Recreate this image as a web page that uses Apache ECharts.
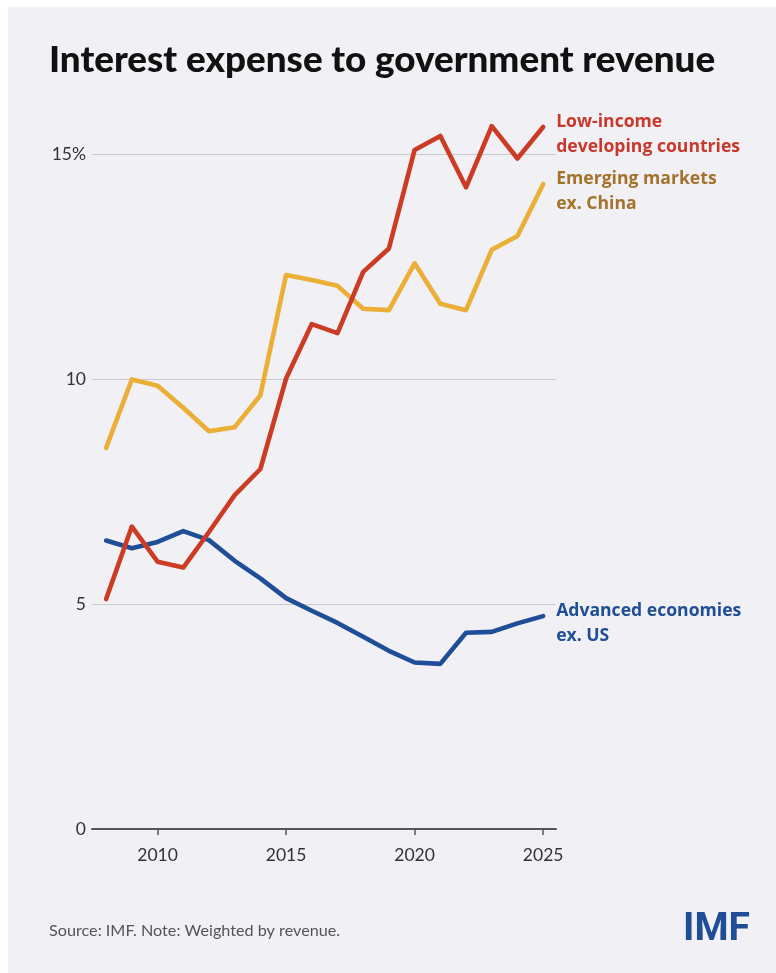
<!DOCTYPE html>
<html>
<head>
<meta charset="utf-8">
<script src="https://cdn.jsdelivr.net/npm/echarts@6/dist/echarts.min.js"></script>
<style>
  html, body { margin: 0; padding: 0; background: #ffffff; }
  #chart { width: 776px; height: 973px; }
</style>
</head>
<body>
<div id="chart"></div>
<script>
// Interest expense as a share of government revenue, percent
const years = [2008, 2009, 2010, 2011, 2012, 2013, 2014, 2015, 2016, 2017, 2018, 2019, 2020, 2021, 2022, 2023, 2024, 2025];
const lowIncome = [5.11, 6.72, 5.94, 5.81, 6.6, 7.42, 8.0, 10.01, 11.22, 11.02, 12.38, 12.9, 15.09, 15.4, 14.26, 15.62, 14.9, 15.6];
const emerging = [8.47, 9.99, 9.85, 9.36, 8.84, 8.93, 9.64, 12.31, 12.2, 12.07, 11.56, 11.53, 12.57, 11.67, 11.53, 12.87, 13.18, 14.33];
const advanced = [6.41, 6.24, 6.38, 6.62, 6.42, 5.96, 5.57, 5.13, 4.85, 4.58, 4.27, 3.96, 3.70, 3.67, 4.36, 4.38, 4.57, 4.73];

const seriesNames = ['Advanced economies\nex. US', 'Emerging markets\nex. China', 'Low-income\ndeveloping countries'];
const xTicks = [2010, 2015, 2020, 2025];
const yTicks = [0, 5, 10, 15];

const titleText = 'Interest expense to government revenue';
const sourceText = 'Source: IMF. Note: Weighted by revenue.';

const chart = echarts.init(document.getElementById('chart'), null, { renderer: 'canvas' });

function pairs(vals) {
  return years.map((y, i) => [y, vals[i]]);
}

function lineSeries(name, vals, lineColor, labelColor) {
  return {
    type: 'line',
    name: name,
    data: pairs(vals),
    showSymbol: false,
    symbol: 'none',
    clip: false,
    lineStyle: { color: lineColor, width: 4.6, cap: 'round', join: 'round' },
    itemStyle: { color: lineColor },
    emphasis: { disabled: true },
    endLabel: {
      show: true,
      formatter: name,
      color: labelColor,
      fontFamily: 'Open Sans',
      fontWeight: 'bold',
      fontSize: 17.6,
      lineHeight: 25,
      distance: 13,
      offset: [0, 7],
      align: 'left'
    }
  };
}

chart.setOption({
  animation: false,
  backgroundColor: '#ffffff',
  graphic: [
    { type: 'rect', shape: { x: 8, y: 7, width: 768, height: 966 }, style: { fill: '#f0f0f5' }, z: -10 },
    { type: 'text', left: 49, top: 42, style: { text: titleText, fontFamily: 'Lato', fontWeight: 900, fontSize: 36.8, fill: '#111111' } },
    { type: 'text', left: 49, top: 923, style: { text: sourceText, fontFamily: 'Lato', fontWeight: 400, fontSize: 16.2, fill: '#555555' } },
    { type: 'text', left: 683, top: 911, style: { text: 'IMF', fontFamily: 'Roboto', fontWeight: 'bold', fontSize: 39, fill: '#1f4e96' } }
  ],
  grid: { left: 92, right: 220, top: 154, bottom: 144, containLabel: false },
  xAxis: {
    type: 'value',
    min: 2007.45,
    max: 2025.5,
    splitLine: { show: false },
    axisLine: { show: true, lineStyle: { color: '#555555', width: 2 } },
    axisTick: { show: true, customValues: xTicks, length: 6, lineStyle: { color: '#555555', width: 1.5 } },
    axisLabel: {
      customValues: xTicks,
      formatter: v => String(v),
      margin: 17,
      fontFamily: 'Lato',
      fontSize: 17.5,
      color: '#333333'
    }
  },
  yAxis: {
    type: 'value',
    min: 0,
    max: 15,
    interval: 5,
    axisLine: { show: false },
    axisTick: { show: false },
    splitLine: { show: true, lineStyle: { color: '#c9c9cd', width: 1 } },
    axisLabel: {
      customValues: yTicks,
      formatter: v => (v === 15 ? '15%' : String(v)),
      margin: 6,
      fontFamily: 'Lato',
      fontSize: 17.5,
      color: '#333333'
    }
  },
  series: [
    lineSeries(seriesNames[0], advanced, '#1f4e99', '#1f4e96'),
    lineSeries(seriesNames[1], emerging, '#ebae36', '#a4722b'),
    lineSeries(seriesNames[2], lowIncome, '#cc3b24', '#c8392b')
  ]
});
</script>
</body>
</html>
